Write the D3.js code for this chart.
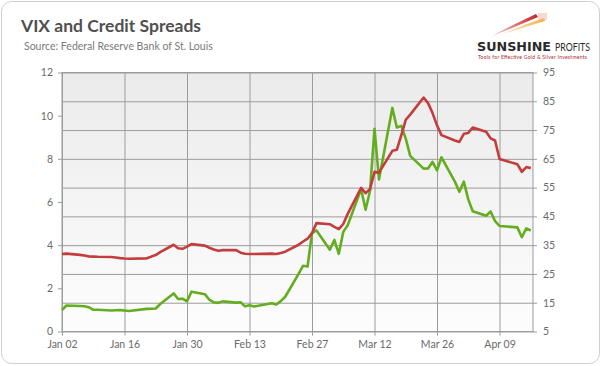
<!DOCTYPE html>
<html><head><meta charset="utf-8">
<script src="https://cdn.jsdelivr.net/npm/d3@7/dist/d3.min.js"></script>
<style>
html,body{margin:0;padding:0;background:#fff;}
svg{display:block;font-family:"Lato","Open Sans",sans-serif;}
</style></head>
<body>
<svg id="chart" width="602" height="366"></svg>
<script>
// ---- data (2020) ----
const dates = ["2020-01-02","2020-01-03","2020-01-06","2020-01-07","2020-01-08","2020-01-09","2020-01-10",
"2020-01-13","2020-01-14","2020-01-15","2020-01-16","2020-01-17","2020-01-21","2020-01-22","2020-01-23","2020-01-24",
"2020-01-27","2020-01-28","2020-01-29","2020-01-30","2020-01-31","2020-02-03","2020-02-04","2020-02-05","2020-02-06","2020-02-07",
"2020-02-10","2020-02-11","2020-02-12","2020-02-13","2020-02-14","2020-02-18","2020-02-19","2020-02-20","2020-02-21",
"2020-02-24","2020-02-25","2020-02-26","2020-02-27","2020-02-28","2020-03-02","2020-03-03","2020-03-04","2020-03-05","2020-03-06",
"2020-03-09","2020-03-10","2020-03-11","2020-03-12","2020-03-13","2020-03-16","2020-03-17","2020-03-18","2020-03-19","2020-03-20",
"2020-03-23","2020-03-24","2020-03-25","2020-03-26","2020-03-27","2020-03-30","2020-03-31","2020-04-01","2020-04-02","2020-04-03",
"2020-04-06","2020-04-07","2020-04-08","2020-04-09","2020-04-13","2020-04-14","2020-04-15","2020-04-16"];

// Credit spreads (left axis, %)
const spreads = [3.59,3.61,3.55,3.52,3.48,3.47,3.46,
3.45,3.43,3.40,3.38,3.37,3.39,3.47,3.54,3.68,
4.02,3.86,3.83,3.93,4.05,3.98,3.88,3.80,3.74,3.77,
3.77,3.65,3.60,3.59,3.59,3.61,3.59,3.64,3.70,
4.02,4.17,4.30,4.56,5.02,4.97,4.85,4.74,4.98,5.45,
6.65,6.41,6.60,7.40,7.36,8.37,8.42,9.10,9.81,10.05,
10.84,10.58,10.12,9.55,9.10,8.85,8.78,9.16,9.20,9.45,
9.25,8.95,8.85,7.99,7.75,7.40,7.62,7.57];

// VIX (right axis)
const vix = [12.47,14.02,13.85,13.79,13.45,12.54,12.56,
12.32,12.39,12.42,12.32,12.10,12.85,12.91,12.98,14.56,
18.23,16.28,16.39,15.49,18.84,17.97,16.05,15.15,14.96,15.47,
15.04,15.18,13.74,14.15,13.68,14.83,14.38,15.56,17.08,
25.03,27.85,27.56,39.16,40.11,33.42,36.82,31.99,39.62,41.94,
54.46,47.30,53.90,75.47,57.83,82.69,75.91,76.45,72.00,66.04,
61.59,61.67,63.95,61.00,65.54,57.08,53.54,57.06,50.91,46.80,
45.24,46.70,43.35,41.67,41.17,37.76,40.84,40.11];

const xTickDates = ["2020-01-02","2020-01-16","2020-01-30","2020-02-13","2020-02-27","2020-03-12","2020-03-26","2020-04-09"];
const leftTicks = [0,2,4,6,8,10,12];
const rightTicks = [5,15,25,35,45,55,65,75,85,95];

// ---- layout ----
const parse = d3.utcParse("%Y-%m-%d");
const fmt = d3.utcFormat("%b %d");
const L = 62, R = 533, T = 72.5, B = 331.5;

const svg = d3.select("#chart");
const defs = svg.append("defs");

// card
svg.append("rect").attr("x",1.5).attr("y",1.5).attr("width",598).attr("height",362)
  .attr("rx",10).attr("fill","#fff").attr("stroke","#cfcfcf").attr("stroke-width",1);

// title
svg.append("text").attr("x",21).attr("y",32).attr("font-size",17.5).attr("font-weight",700)
  .attr("fill","#505050").text("VIX and Credit Spreads");
svg.append("text").attr("x",24).attr("y",50).attr("font-size",10.5)
  .attr("fill","#7a7a7a").text("Source: Federal Reserve Bank of St. Louis");

// logo
const logo = svg.append("g");
const lg1 = defs.append("linearGradient").attr("id","sw1").attr("x1","0").attr("x2","1");
lg1.append("stop").attr("offset","0").attr("stop-color","#b81e24").attr("stop-opacity",0.15);
lg1.append("stop").attr("offset","1").attr("stop-color","#c8202a");
const lg2 = defs.append("linearGradient").attr("id","sw2").attr("x1","0").attr("x2","1");
lg2.append("stop").attr("offset","0").attr("stop-color","#f0a030").attr("stop-opacity",0.15);
lg2.append("stop").attr("offset","1").attr("stop-color","#f2b441");
logo.append("path").attr("d","M490,37 Q514,24 536,14 L538,17 Q515,27 490,37 Z").attr("fill","url(#sw1)");
logo.append("path").attr("d","M500,35 Q522,25 544,18 L545,21 Q522,28 500,35 Z").attr("fill","url(#sw2)");
logo.append("rect").attr("x",538).attr("y",13).attr("width",9).attr("height",7).attr("fill","#eeb8a8").attr("opacity",0.55);
logo.append("text").attr("x",477).attr("y",51).attr("font-size",11.5).attr("font-family","'DejaVu Sans', sans-serif")
  .attr("font-weight",700).attr("fill","#2a2a2a").attr("textLength",74).attr("lengthAdjust","spacingAndGlyphs")
  .text("SUNSHINE");
logo.append("text").attr("x",555).attr("y",51).attr("font-size",11.5).attr("font-family","Lato, sans-serif")
  .attr("font-weight",400).attr("fill","#2a2a2a").attr("textLength",35).attr("lengthAdjust","spacingAndGlyphs")
  .text("PROFITS");
logo.append("text").attr("x",478).attr("y",58.5).attr("font-size",5).attr("fill","#b0282d")
  .attr("textLength",109).attr("lengthAdjust","spacing")
  .text("Tools for Effective Gold & Silver Investments");

// plot background gradient
const bg = defs.append("linearGradient").attr("id","bg").attr("x1","0").attr("x2","0").attr("y1","0").attr("y2","1");
bg.append("stop").attr("offset","0").attr("stop-color","#ebebeb");
bg.append("stop").attr("offset","1").attr("stop-color","#fdfdfd");
svg.append("rect").attr("x",L).attr("y",T).attr("width",R-L).attr("height",B-T).attr("fill","url(#bg)");

// scales
const x = d3.scaleUtc().domain([parse("2020-01-02"), d3.utcHour.offset(parse("2020-04-16"),12)]).range([L,R]);
const yL = d3.scaleLinear().domain([0,12]).range([B,T]);
const yR = d3.scaleLinear().domain([5,95]).range([B,T]);

const gridColor = "#9c9c9c";
// horizontal grid (right axis ticks)
svg.append("g").attr("transform",`translate(${L},0)`)
  .call(d3.axisLeft(yR).tickValues(rightTicks).tickSize(-(R-L)).tickFormat(""))
  .call(g=>g.select(".domain").remove())
  .call(g=>g.selectAll("line").attr("stroke",gridColor));
// vertical grid
svg.append("g").attr("transform",`translate(0,${B})`)
  .call(d3.axisBottom(x).tickValues(xTickDates.map(parse)).tickSize(-(B-T)).tickFormat(""))
  .call(g=>g.select(".domain").remove())
  .call(g=>g.selectAll("line").attr("stroke",gridColor));
// frame
svg.append("rect").attr("x",L).attr("y",T).attr("width",R-L).attr("height",B-T)
  .attr("fill","none").attr("stroke",gridColor);

const labelColor = "#6a6a6a";
// left axis
svg.append("g").attr("transform",`translate(${L},0)`)
  .call(d3.axisLeft(yL).tickValues(leftTicks).tickSize(4).tickPadding(5).tickFormat(d3.format("d")))
  .call(g=>g.select(".domain").remove())
  .call(g=>g.selectAll("line").attr("stroke",gridColor))
  .call(g=>g.selectAll("text").attr("fill",labelColor).attr("font-size",10.5).attr("font-family","Lato, sans-serif"));
// right axis
svg.append("g").attr("transform",`translate(${R},0)`)
  .call(d3.axisRight(yR).tickValues(rightTicks).tickSize(4).tickPadding(6).tickFormat(d3.format("d")))
  .call(g=>g.select(".domain").remove())
  .call(g=>g.selectAll("line").attr("stroke",gridColor))
  .call(g=>g.selectAll("text").attr("fill",labelColor).attr("font-size",10.5).attr("font-family","Lato, sans-serif"));
// bottom axis
svg.append("g").attr("transform",`translate(0,${B})`)
  .call(d3.axisBottom(x).tickValues(xTickDates.map(parse)).tickSize(4).tickPadding(5).tickFormat(fmt))
  .call(g=>g.select(".domain").remove())
  .call(g=>g.selectAll("line").attr("stroke",gridColor))
  .call(g=>g.selectAll("text").attr("fill",labelColor).attr("font-size",10.5).attr("font-family","Lato, sans-serif"));

// lines
const pts = dates.map(parse);
const lineL = d3.line().x((d,i)=>x(pts[i])).y(d=>yL(d));
const lineR = d3.line().x((d,i)=>x(pts[i])).y(d=>yR(d));
svg.append("path").datum(vix).attr("d",lineR).attr("fill","none")
  .attr("stroke","#63ad1f").attr("stroke-width",2.6).attr("stroke-linejoin","round");
svg.append("path").datum(spreads).attr("d",lineL).attr("fill","none")
  .attr("stroke","#c43d3d").attr("stroke-width",2.6).attr("stroke-linejoin","round");
</script>
</body></html>
